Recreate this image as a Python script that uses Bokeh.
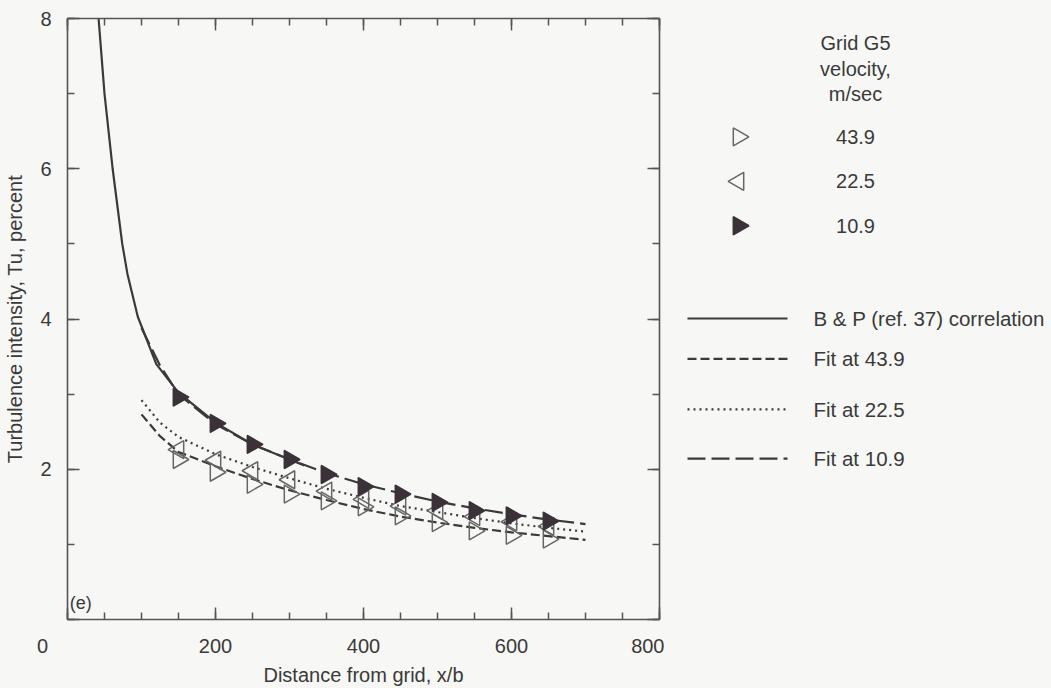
from bokeh.plotting import figure
from bokeh.models import Range1d, LinearAxis, FixedTicker, Label
from bokeh.layouts import row
from bokeh.embed import file_html
from bokeh.resources import INLINE
from bokeh.core.properties import value

# ---- data ----
stations = [150, 200, 250, 300, 350, 400, 450, 500, 550, 600, 650]
tu_439 = [2.13, 1.96, 1.80, 1.67, 1.58, 1.50, 1.38, 1.29, 1.18, 1.12, 1.07]
tu_225 = [2.26, 2.12, 1.98, 1.86, 1.71, 1.60, 1.51, 1.45, 1.37, 1.30, 1.24]
tu_109 = [2.96, 2.61, 2.33, 2.13, 1.93, 1.77, 1.67, 1.56, 1.45, 1.38, 1.31]

bp_x = [42, 50, 61, 74, 81, 95, 120, 150, 200, 250, 320]
bp_tu = [8.0, 7.0, 6.0, 5.0, 4.6, 4.03, 3.40, 3.02, 2.62, 2.33, 2.05]

fit_x = [100, 125, 150, 200, 250, 300, 350, 400, 450, 500, 550, 600, 650, 700]
fit_109 = [3.88, 3.38, 3.00, 2.60, 2.33, 2.13, 1.95, 1.80, 1.68, 1.57, 1.48, 1.40, 1.33, 1.27]
fit_225 = [2.92, 2.62, 2.43, 2.20, 2.03, 1.88, 1.74, 1.62, 1.51, 1.43, 1.35, 1.28, 1.22, 1.17]
fit_439 = [2.73, 2.44, 2.23, 2.04, 1.87, 1.72, 1.59, 1.47, 1.37, 1.29, 1.22, 1.16, 1.11, 1.06]

x_ticks = [0, 200, 400, 600, 800]
x_minor = list(range(0, 801, 50))
y_ticks = [0, 2, 4, 6, 8]
y_minor = list(range(0, 9))

legend_values = ["43.9", "22.5", "10.9"]
legend_lines = ["B & P (ref. 37) correlation", "Fit at 43.9", "Fit at 22.5", "Fit at 10.9"]
header = ["Grid G5", "velocity,", "m/sec"]

# ---- style ----
BG = "#f7f7f5"
INK = "#3a3a3a"
AX = "#555555"
FONT = value("Liberation Sans")
FS = "20px"
OPEN = "#666666"
FILLED = "#3b3239"
NB = "\u00a0"
TOP, BOTTOM = 18, 61

p = figure(width=664, height=688, x_range=Range1d(0, 800), y_range=Range1d(0, 8),
           output_backend="svg", toolbar_location=None,
           min_border_left=67, min_border_right=5, min_border_top=TOP, min_border_bottom=BOTTOM)
p.background_fill_color = BG
p.border_fill_color = BG
p.outline_line_color = None
p.grid.visible = False


def style_axis(ax, ticks, minor, labels=True):
    ax.ticker = FixedTicker(ticks=ticks, minor_ticks=minor)
    ax.axis_line_color = AX
    ax.axis_line_width = 1.6
    ax.major_tick_line_color = AX
    ax.minor_tick_line_color = AX
    ax.major_tick_line_width = 1.5
    ax.minor_tick_line_width = 1.5
    ax.major_tick_in = 12
    ax.major_tick_out = 0
    ax.minor_tick_in = 7
    ax.minor_tick_out = 0
    ax.major_label_text_font = "Liberation Sans"
    ax.major_label_text_font_size = FS
    ax.major_label_text_color = INK
    if labels:
        ax.axis_label_text_font = "Liberation Sans"
        ax.axis_label_text_font_size = FS
        ax.axis_label_text_font_style = "normal"
        ax.axis_label_text_color = INK
    else:
        ax.major_label_overrides = {t: "" for t in ticks}
        ax.major_label_standoff = 0


xa = p.xaxis[0]
style_axis(xa, x_ticks, x_minor)
# the shared origin "0" sits below-left of the corner
xa.major_label_overrides = {0: "0" + NB * 9}
xa.major_label_standoff = 15
xa.axis_label = "Distance from grid, x/b"
xa.axis_label_standoff = 4

ya = p.yaxis[0]
style_axis(ya, y_ticks, y_minor)
ya.major_label_overrides = {0: ""}
ya.major_label_standoff = 16
ya.axis_label = "Turbulence intensity, Tu, percent"
ya.axis_label_standoff = 11

top = LinearAxis()
style_axis(top, x_ticks, x_minor, labels=False)
p.add_layout(top, "above")
right = LinearAxis()
style_axis(right, y_ticks, y_minor, labels=False)
p.add_layout(right, "right")

# curves
p.line(bp_x, bp_tu, line_color=INK, line_width=2.2)
p.line(fit_x, fit_109, line_color=INK, line_width=2.2, line_dash="18 6")
p.line(fit_x, fit_225, line_color=INK, line_width=2.2, line_dash="2 4")
p.line(fit_x, fit_439, line_color=INK, line_width=2.2, line_dash="9 4")

# markers
p.scatter(stations, tu_439, marker="triangle", angle=-1.5708, size=18,
          fill_color=None, line_color=OPEN, line_width=1.5)
p.scatter(stations, tu_225, marker="triangle", angle=1.5708, size=18,
          fill_color=None, line_color=OPEN, line_width=1.5)
p.scatter(stations, tu_109, marker="triangle", angle=-1.5708, size=18,
          fill_color=FILLED, line_color=FILLED, line_width=1.5)

p.add_layout(Label(x=3, y=0.22, text="(e)", text_align="left", text_baseline="middle",
                   text_font="Liberation Sans", text_font_size="18px", text_color=INK))

# ---- legend panel (page-pixel coordinates; frame aligned with the main plot) ----
q = figure(width=387, height=688, x_range=Range1d(0, 387), y_range=Range1d(688 - BOTTOM, TOP),
           output_backend="svg", toolbar_location=None,
           min_border_left=0, min_border_right=0, min_border_top=TOP, min_border_bottom=BOTTOM)
q.axis.visible = False
q.grid.visible = False
q.outline_line_color = None
q.background_fill_color = BG
q.border_fill_color = BG

q.text(x=[191, 191, 191], y=[43, 69, 94], text=header, text_align="center",
       text_baseline="middle", text_font=FONT, text_font_size=FS, text_color=INK)
mk_y = [138, 183, 228]
q.text(x=[191] * 3, y=mk_y, text=legend_values, text_align="center", text_baseline="middle",
       text_font=FONT, text_font_size=FS, text_color=INK)
q.scatter([74], [mk_y[0]], marker="triangle", angle=-1.5708, size=18,
          fill_color=None, line_color=OPEN, line_width=1.5)
q.scatter([74], [mk_y[1]], marker="triangle", angle=1.5708, size=18,
          fill_color=None, line_color=OPEN, line_width=1.5)
q.scatter([74], [mk_y[2]], marker="triangle", angle=-1.5708, size=18,
          fill_color=FILLED, line_color=FILLED, line_width=1.5)

ln_y = [322, 363, 414, 464]
dashes = ["solid", "9 4", "2 4", "18 6"]
for yy, d in zip(ln_y, dashes):
    q.line([23, 123], [yy, yy], line_color=INK, line_width=2.2, line_dash=d)
q.text(x=[149] * 4, y=ln_y, text=legend_lines, text_align="left", text_baseline="middle",
       text_font=FONT, text_font_size="20.5px", text_color=INK)

layout = row(p, q)
html = file_html(layout, INLINE)
html = html.replace("<head>", "<head><style>body{background:#f7f7f5;}</style>", 1)
open("out.html", "w").write(html)
